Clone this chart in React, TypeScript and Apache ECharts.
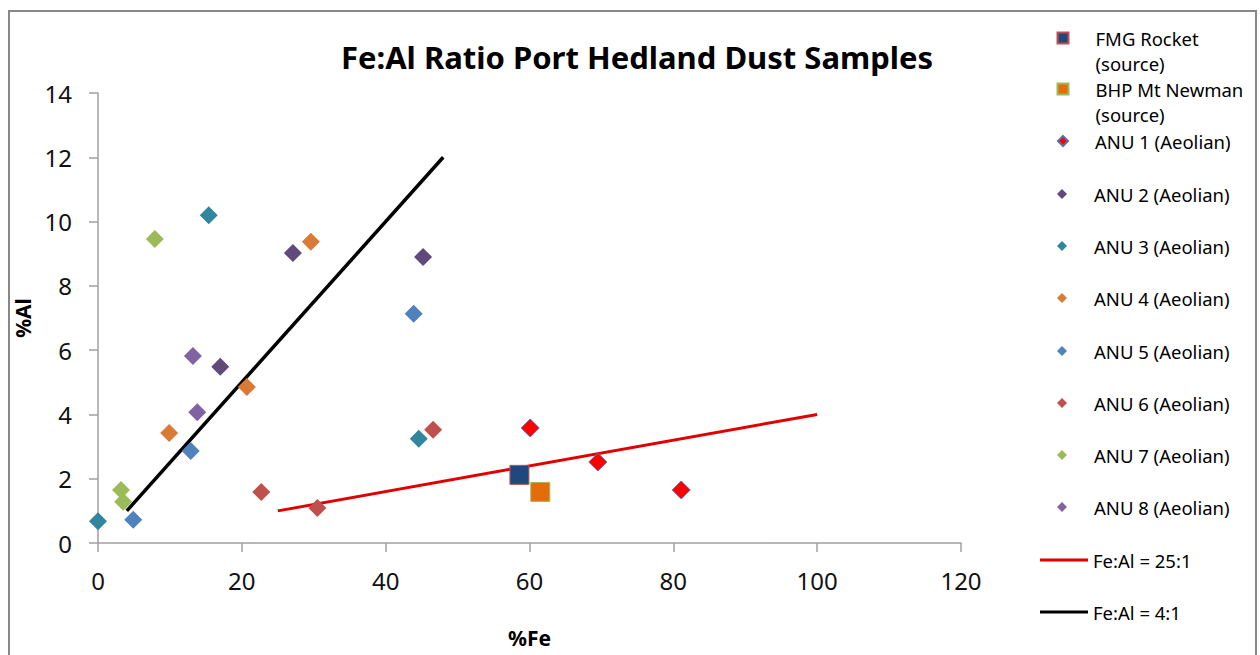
import React, { useEffect, useRef } from 'react';
import * as echarts from 'echarts';

// ---- data ----
const chartTitle = 'Fe:Al Ratio Port Hedland Dust Samples';
const xAxisName = '%Fe';
const yAxisName = '%Al';

const seriesNames = [
  'FMG Rocket (source)',
  'BHP Mt Newman (source)',
  'ANU 1 (Aeolian)',
  'ANU 2 (Aeolian)',
  'ANU 3 (Aeolian)',
  'ANU 4 (Aeolian)',
  'ANU 5 (Aeolian)',
  'ANU 6 (Aeolian)',
  'ANU 7 (Aeolian)',
  'ANU 8 (Aeolian)',
  'Fe:Al = 25:1',
  'Fe:Al = 4:1',
];

const fmgRocket = [[58.6, 2.12]];
const bhpMtNewman = [[61.5, 1.59]];
const anu1 = [[60.1, 3.58], [69.5, 2.52], [81.1, 1.65]];
const anu2 = [[27.1, 9.02], [45.2, 8.9], [17.0, 5.48]];
const anu3 = [[15.4, 10.2], [44.6, 3.24], [0, 0.68]];
const anu4 = [[29.6, 9.37], [20.7, 4.85], [9.9, 3.42]];
const anu5 = [[43.9, 7.13], [12.9, 2.86], [4.9, 0.72]];
const anu6 = [[46.6, 3.52], [22.7, 1.59], [30.5, 1.09]];
const anu7 = [[7.9, 9.46], [3.2, 1.65], [3.5, 1.28]];
const anu8 = [[13.2, 5.82], [13.8, 4.07]];
const ratio25 = [[25, 1], [100, 4]];
const ratio4 = [[4, 1], [48, 12]];

const xMin = 0, xMax = 120, xStep = 20;
const yMin = 0, yMax = 14, yStep = 2;

// ---- styles ----
const FONT = 'Noto Sans';
const anuColors = ['#FF0000', '#604A7B', '#31859C', '#DA7B35', '#4F81BD', '#C0504D', '#9BBB59', '#8064A2'];
const anuData = [anu1, anu2, anu3, anu4, anu5, anu6, anu7, anu8];
const legendCenters = [38, 89, 141, 194, 246, 298, 351, 403, 455, 507, 560, 612];

export default function App() {
  const ref = useRef<HTMLDivElement>(null);

  useEffect(() => {
    document.body.style.margin = '0';
    if (!ref.current) return;
    const chart = echarts.init(ref.current, null, { renderer: 'svg' });

    const series: any[] = [];
    series.push({
      name: seriesNames[10],
      type: 'line',
      data: ratio25,
      symbol: 'none',
      lineStyle: { color: '#E00000', width: 3 },
      itemStyle: { color: '#E00000' },
      z: 2,
    });
    series.push({
      name: seriesNames[11],
      type: 'line',
      data: ratio4,
      symbol: 'none',
      lineStyle: { color: '#000000', width: 3.5 },
      itemStyle: { color: '#000000' },
      z: 2,
    });
    series.push({
      name: seriesNames[0],
      type: 'scatter',
      data: fmgRocket,
      symbol: 'rect',
      symbolSize: 19,
      itemStyle: { color: '#1F497D', borderColor: '#C0504D', borderWidth: 1, opacity: 1 },
      z: 3,
    });
    series.push({
      name: seriesNames[1],
      type: 'scatter',
      data: bhpMtNewman,
      symbol: 'rect',
      symbolSize: 19,
      itemStyle: { color: '#E46C0A', borderColor: '#9BBB59', borderWidth: 1, opacity: 1 },
      z: 3,
    });
    anuData.forEach((d, i) => {
      series.push({
        name: seriesNames[2 + i],
        type: 'scatter',
        data: d,
        symbol: 'diamond',
        symbolSize: 18,
        itemStyle: i === 0
          ? { color: anuColors[i], borderColor: '#5A6FA8', borderWidth: 1, opacity: 1 }
          : { color: anuColors[i], opacity: 1 },
        z: 3,
      });
    });

    const legends = seriesNames.map((name, i) => {
      const isLine = i >= 10;
      const twoLine = i < 2;
      const cy = legendCenters[i];
      const textStyle: any = {
        fontFamily: FONT,
        fontSize: 18.5,
        color: '#000',
        lineHeight: twoLine ? 25 : 20,
        padding: isLine ? [0, 0, 0, 0] : [0, 0, 0, 22],
      };
      return {
        data: [name],
        orient: 'vertical',
        left: isLine ? 1040 : (i < 2 ? 1056.5 : 1057),
        top: twoLine ? cy - 37.5 : cy - 10,
        padding: 0,
        itemWidth: isLine ? 48 : (i < 2 ? 11 : 10),
        itemHeight: isLine ? 3 : (i < 2 ? 11 : 10),
        icon: isLine ? 'rect' : (i < 2 ? 'rect' : 'diamond'),
        formatter: twoLine ? (n: string) => '\u00a0\n' + n.replace(' (source)', '\n(source)') : undefined,
        textStyle,
      };
    });

    chart.setOption({
      animation: false,
      backgroundColor: '#ffffff',
      title: {
        text: chartTitle,
        left: 632,
        top: 36,
        textAlign: 'center',
        textStyle: { fontFamily: FONT, fontSize: 31, fontWeight: 'bold', color: '#000' },
      },
      grid: { left: 98, right: 299, top: 93, bottom: 112, containLabel: false },
      legend: legends,
      xAxis: {
        type: 'value',
        min: xMin,
        max: xMax,
        interval: xStep,
        name: xAxisName,
        nameLocation: 'middle',
        nameGap: 84,
        nameTextStyle: { fontFamily: FONT, fontSize: 21, fontWeight: 'bold', color: '#000' },
        axisLine: { show: true, onZero: false, lineStyle: { color: '#A0A0A0', width: 1.5 } },
        axisTick: { show: true, length: 9, lineStyle: { color: '#A0A0A0', width: 1.5 } },
        axisLabel: { fontFamily: FONT, fontSize: 24, color: '#111', margin: 25 },
        splitLine: { show: false },
      },
      yAxis: {
        type: 'value',
        min: yMin,
        max: yMax,
        interval: yStep,
        name: yAxisName,
        nameLocation: 'middle',
        nameGap: 55,
        nameRotate: 90,
        nameTextStyle: { fontFamily: FONT, fontSize: 21, fontWeight: 'bold', color: '#000' },
        axisLine: { show: true, onZero: false, lineStyle: { color: '#A0A0A0', width: 1.5 } },
        axisTick: { show: true, length: 9, lineStyle: { color: '#A0A0A0', width: 1.5 } },
        axisLabel: { fontFamily: FONT, fontSize: 24, color: '#111', margin: 26 },
        splitLine: { show: false },
      },
      graphic: [
        {
          type: 'rect',
          shape: { x: 9, y: 11, width: 1247, height: 680 },
          style: { fill: 'none', stroke: '#888888', lineWidth: 2 },
          silent: true,
          z: -1,
        },
      ],
      series,
    });

    return () => chart.dispose();
  }, []);

  return <div ref={ref} style={{ width: 1260, height: 655 }} />;
}
